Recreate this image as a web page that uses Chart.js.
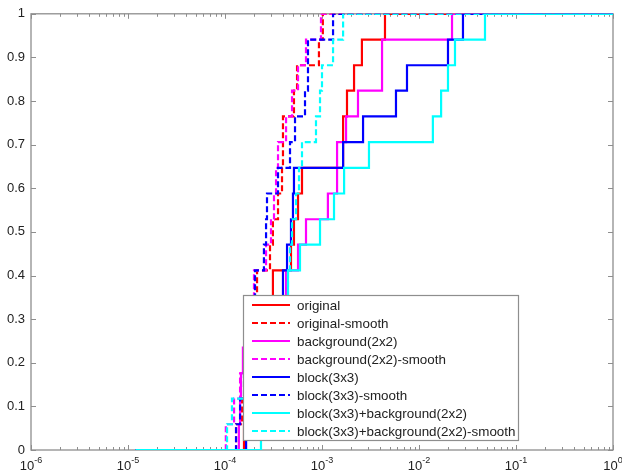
<!DOCTYPE html>
<html lang="en">
<head>
  <meta charset="UTF-8">
  <title>CDF comparison</title>
  <script src="https://cdn.jsdelivr.net/npm/chart.js"></script>
  <style>
    html, body { margin: 0; padding: 0; background: #fff; }
    #wrap { width: 622px; height: 472px; }
  </style>
</head>
<body>
  <div id="wrap"><canvas id="cdfChart" width="622" height="472"></canvas></div>

  <script>
    // series names / styles (legend order, last one on top)
    const seriesNames = [
      'original', 'original-smooth',
      'background(2x2)', 'background(2x2)-smooth',
      'block(3x3)', 'block(3x3)-smooth',
      'block(3x3)+background(2x2)', 'block(3x3)+background(2x2)-smooth'
    ];
    const seriesColors = ['#ff0000', '#ff0000', '#ff00ff', '#ff00ff', '#0000ff', '#0000ff', '#00ffff', '#00ffff'];
    const seriesDashed = [false, true, false, true, false, true, false, true];

    // sorted samples of each series
    const original = [1.57e-4, 1.77e-4, 1.99e-4, 2.30e-4, 2.65e-4, 3.12e-4, 3.12e-4, 4.79e-4, 5.14e-4, 5.66e-4, 6.22e-4, 1.65e-3, 1.65e-3, 1.81e-3, 2.14e-3, 2.58e-3, 4.46e-3];
    const originalSmooth = [1.30e-4, 1.50e-4, 1.65e-4, 1.81e-4, 1.94e-4, 2.04e-4, 2.14e-4, 2.91e-4, 3.12e-4, 3.52e-4, 3.87e-4, 3.96e-4, 3.96e-4, 5.14e-4, 5.53e-4, 9.3e-4, 1.02e-3];
    const background2x2 = [1.39e-4, 1.43e-4, 1.46e-4, 1.53e-4, 1.81e-4, 2.91e-4, 4.26e-4, 5.66e-4, 6.84e-4, 1.15e-3, 1.43e-3, 1.43e-3, 1.77e-3, 2.35e-3, 4.16e-3, 4.16e-3, 2.19e-2];
    const background2x2Smooth = [1.02e-4, 1.24e-4, 1.43e-4, 1.65e-4, 1.81e-4, 1.94e-4, 1.99e-4, 2.65e-4, 2.98e-4, 3.20e-4, 3.36e-4, 3.52e-4, 4.26e-4, 4.91e-4, 5.66e-4, 6.84e-4, 9.76e-4];
    const block3x3 = [1.65e-4, 1.90e-4, 2.19e-4, 2.52e-4, 2.91e-4, 3.36e-4, 3.96e-4, 4.36e-4, 4.79e-4, 5.02e-4, 5.14e-4, 1.65e-3, 2.65e-3, 5.79e-3, 7.52e-3, 1.99e-2, 2.84e-2];
    const block3x3Smooth = [1.30e-4, 1.43e-4, 1.57e-4, 1.73e-4, 1.90e-4, 1.99e-4, 2.04e-4, 2.52e-4, 2.65e-4, 2.71e-4, 3.52e-4, 4.68e-4, 5.27e-4, 6.68e-4, 7.17e-4, 7.17e-4, 1.30e-3];
    const blockBg = [2.35e-4, 2.58e-4, 2.91e-4, 3.28e-4, 3.69e-4, 4.16e-4, 4.46e-4, 5.93e-4, 9.54e-4, 1.33e-3, 1.69e-3, 3.05e-3, 1.39e-2, 1.69e-2, 1.99e-2, 2.35e-2, 4.79e-2];
    const blockBgSmooth = [1.05e-4, 1.18e-4, 1.61e-4, 2.19e-4, 3.05e-4, 4.16e-4, 4.46e-4, 4.68e-4, 4.91e-4, 5.40e-4, 5.79e-4, 6.22e-4, 8.67e-4, 9.54e-4, 1.00e-3, 1.30e-3, 1.65e-3];

    const seriesSamples = [original, originalSmooth, background2x2, background2x2Smooth, block3x3, block3x3Smooth, blockBg, blockBgSmooth];

    // cumulative level reached after each sample
    const cdfLevels = [0.059, 0.118, 0.176, 0.235, 0.294, 0.353, 0.412, 0.471, 0.529, 0.588, 0.647, 0.706, 0.765, 0.824, 0.882, 0.941, 1];
    const xStart = 1.2e-5;
    const xEnd = 1;

    // axis ticks
    const xTicks = [1e-6, 1e-5, 1e-4, 1e-3, 1e-2, 1e-1, 1];
    const xTickExp = ['-6', '-5', '-4', '-3', '-2', '-1', '0'];
    const yTicks = [0, 0.1, 0.2, 0.3, 0.4, 0.5, 0.6, 0.7, 0.8, 0.9, 1];
    const yTickLabels = ['0', '0.1', '0.2', '0.3', '0.4', '0.5', '0.6', '0.7', '0.8', '0.9', '1'];

    const FONT = '"Liberation Sans", Arial, Helvetica, sans-serif';
    const TEXT = '#222';
    const FRAME = '#8e8e8e';

    function cdfPoints(samples) {
      const pts = [{ x: xStart, y: 0 }];
      samples.forEach((v, i) => pts.push({ x: v, y: cdfLevels[i] }));
      pts.push({ x: xEnd, y: 1 });
      return pts;
    }

    // box, inward ticks (drawn under the lines like matlab)
    const axesFrame = {
      id: 'axesFrame',
      beforeDatasetsDraw(chart) {
        const { ctx, chartArea: a, scales: { x, y } } = chart;
        ctx.save();
        ctx.strokeStyle = FRAME;
        ctx.lineWidth = 1.3;
        ctx.strokeRect(a.left, a.top, a.right - a.left, a.bottom - a.top);
        ctx.lineWidth = 1;
        ctx.beginPath();
        for (let e = -6; e <= 0; e++) {
          for (let k = 1; k <= 9; k++) {
            const v = k * Math.pow(10, e);
            if (v > 1) break;
            const px = Math.round(x.getPixelForValue(v)) + 0.5;
            const len = k === 1 ? 5 : 3;
            ctx.moveTo(px, a.bottom); ctx.lineTo(px, a.bottom - len);
            ctx.moveTo(px, a.top); ctx.lineTo(px, a.top + len);
          }
        }
        yTicks.forEach(v => {
          const py = Math.round(y.getPixelForValue(v)) + 0.5;
          ctx.moveTo(a.left, py); ctx.lineTo(a.left + 5, py);
          ctx.moveTo(a.right, py); ctx.lineTo(a.right - 5, py);
        });
        ctx.stroke();
        ctx.restore();
      },
      afterDraw(chart) {
        const { ctx, chartArea: a, scales: { x } } = chart;
        ctx.save();
        ctx.fillStyle = TEXT;
        ctx.textBaseline = 'alphabetic';
        ctx.textAlign = 'left';
        xTicks.forEach((v, i) => {
          const px = x.getPixelForValue(v);
          ctx.font = '13px ' + FONT;
          const wb = ctx.measureText('10').width;
          ctx.font = '9px ' + FONT;
          const we = ctx.measureText(xTickExp[i]).width;
          const left = px - (wb + we) / 2;
          ctx.font = '13px ' + FONT;
          ctx.fillText('10', left, a.bottom + 20);
          ctx.font = '9px ' + FONT;
          ctx.fillText(xTickExp[i], left + wb, a.bottom + 13);
        });
        ctx.restore();
      }
    };

    // boxed legend inside the axes
    const legendBox = {
      id: 'legendBox',
      afterDatasetsDraw(chart) {
        const { ctx } = chart;
        const box = { left: 243.5, top: 295.5, right: 518.5, bottom: 440.5 };
        ctx.save();
        ctx.fillStyle = '#fff';
        ctx.fillRect(box.left, box.top, box.right - box.left, box.bottom - box.top);
        ctx.strokeStyle = FRAME;
        ctx.lineWidth = 1.2;
        ctx.strokeRect(box.left, box.top, box.right - box.left, box.bottom - box.top);
        ctx.font = '13.4px ' + FONT;
        ctx.textBaseline = 'middle';
        seriesNames.forEach((name, i) => {
          const ry = 305 + i * 18;
          ctx.strokeStyle = seriesColors[i];
          ctx.lineWidth = 2.2;
          ctx.setLineDash(seriesDashed[i] ? [6, 3] : []);
          ctx.beginPath();
          ctx.moveTo(252, ry);
          ctx.lineTo(290, ry);
          ctx.stroke();
          ctx.setLineDash([]);
          ctx.fillStyle = TEXT;
          ctx.fillText(name, 297, ry + 1);
        });
        ctx.restore();
      }
    };

    const datasets = seriesNames.map((name, i) => ({
      label: name,
      data: cdfPoints(seriesSamples[i]),
      borderColor: seriesColors[i],
      borderWidth: 2.2,
      borderDash: seriesDashed[i] ? [6, 3] : [],
      stepped: 'before',
      fill: false,
      pointRadius: 0,
      order: seriesNames.length - i
    }));

    new Chart(document.getElementById('cdfChart'), {
      type: 'line',
      data: { datasets },
      options: {
        responsive: false,
        animation: false,
        layout: { padding: { top: 12, right: 9, left: 0, bottom: 0 } },
        plugins: {
          legend: { display: false },
          tooltip: { enabled: false }
        },
        scales: {
          x: {
            type: 'logarithmic',
            min: 1e-6,
            max: 1,
            grid: { display: false },
            border: { display: false },
            ticks: { display: false },
            afterFit(s) { s.height = 22; }
          },
          y: {
            type: 'linear',
            min: 0,
            max: 1,
            grid: { display: false, drawTicks: false },
            border: { display: false },
            afterBuildTicks(s) { s.ticks = yTicks.map(v => ({ value: v })); },
            ticks: {
              padding: 6,
              color: TEXT,
              font: { family: FONT, size: 13 },
              callback: (v, i) => yTickLabels[i]
            },
            afterFit(s) { s.width = 31; }
          }
        }
      },
      plugins: [axesFrame, legendBox]
    });
  </script>
</body>
</html>
